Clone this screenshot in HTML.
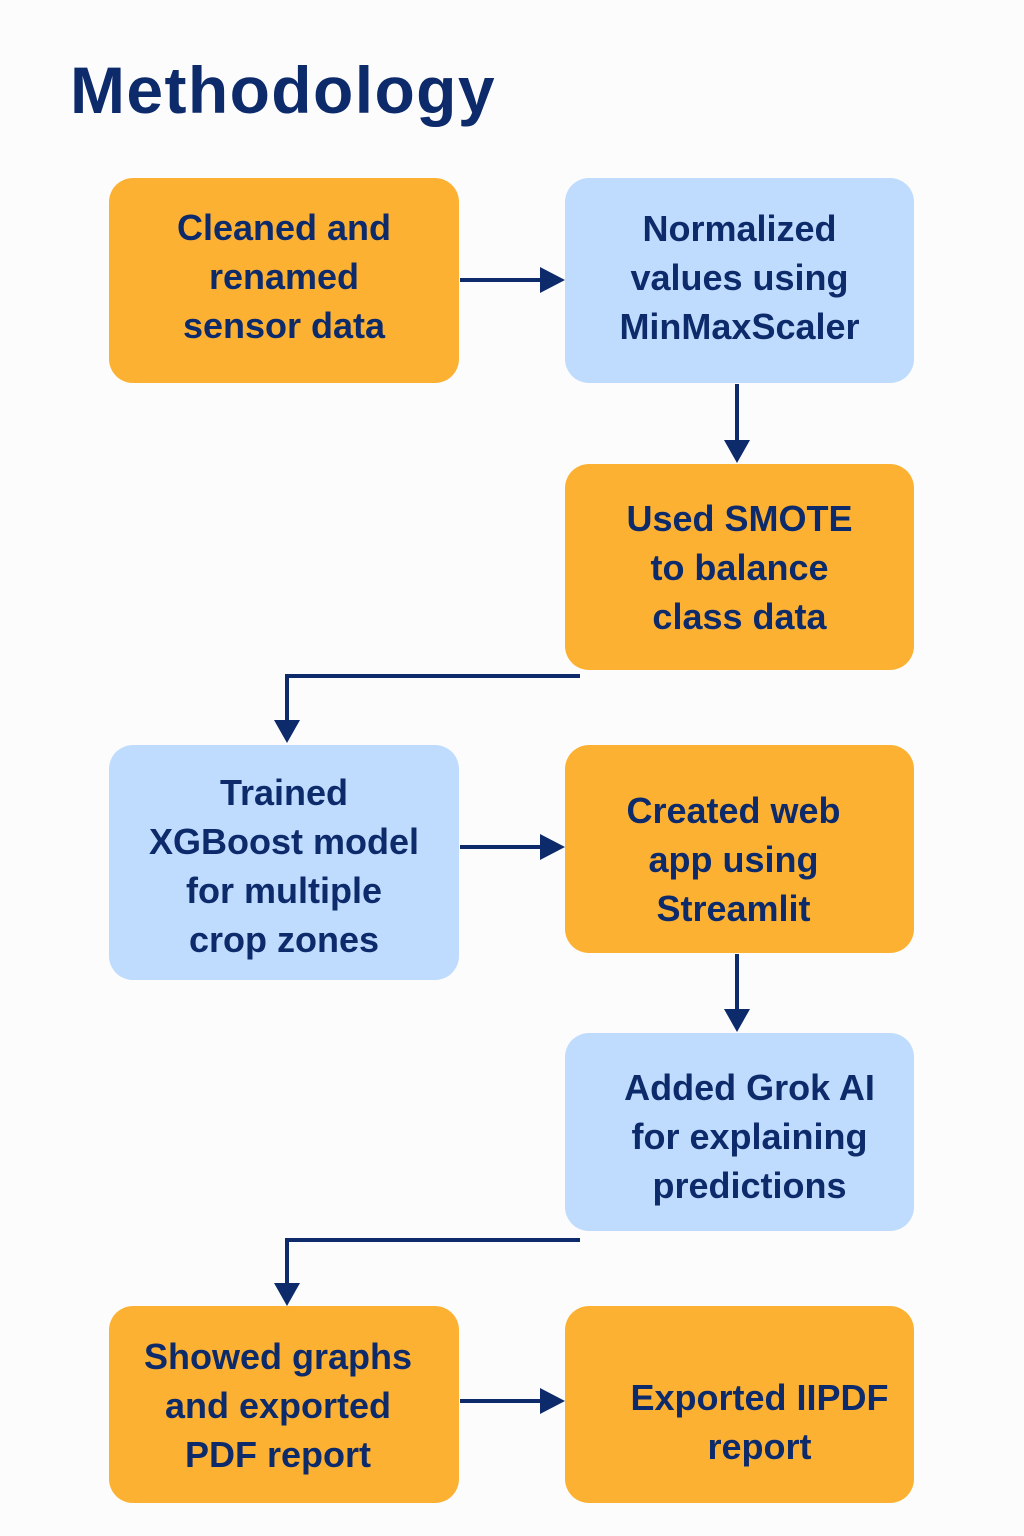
<!DOCTYPE html>
<html><head><meta charset="utf-8"><style>
body{margin:0;width:1024px;height:1536px;background:#fcfcfc;position:relative;overflow:hidden;font-family:"Liberation Sans",sans-serif}
.t{position:absolute;left:70px;top:52px;font-size:66px;font-weight:bold;color:#0d2a6b;letter-spacing:1.4px}
.b{position:absolute;border-radius:24px;display:flex;align-items:center;justify-content:center;text-align:center;color:#0d2a6b;font-weight:bold;font-size:36px;line-height:49px;box-sizing:border-box}
.o{background:#fdb132}
.l{background:#bfdbfd}
svg{position:absolute;left:0;top:0}
</style></head><body>
<div class="t">Methodology</div>
<div class="b o" style="left:109px;top:178px;width:350px;height:205px;padding-bottom:8px">Cleaned and<br>renamed<br>sensor data</div>
<div class="b l" style="left:565px;top:178px;width:349px;height:205px;padding-bottom:6px">Normalized<br>values using<br>MinMaxScaler</div>
<div class="b o" style="left:565px;top:464px;width:349px;height:206px">Used SMOTE<br>to balance<br>class data</div>
<div class="b l" style="left:109px;top:745px;width:350px;height:235px;padding-top:6px">Trained<br>XGBoost model<br>for multiple<br>crop zones</div>
<div class="b o" style="left:565px;top:745px;width:349px;height:208px;padding-right:12px;padding-top:20px">Created web<br>app using<br>Streamlit</div>
<div class="b l" style="left:565px;top:1033px;width:349px;height:198px;padding-left:20px;padding-top:8px">Added Grok AI<br>for explaining<br>predictions</div>
<div class="b o" style="left:109px;top:1306px;width:350px;height:197px;padding-right:12px;padding-top:2px">Showed graphs<br>and exported<br>PDF report</div>
<div class="b o" style="left:565px;top:1306px;width:349px;height:197px;padding-left:40px;padding-top:34px">Exported IIPDF<br>report</div>
<svg width="1024" height="1536">
<g stroke="#0d2a6b" stroke-width="4" fill="none">
<path d="M460 280H542"/><path d="M737 384V442"/>
<path d="M580 676H287V722"/><path d="M460 847H542"/>
<path d="M737 954V1010"/><path d="M580 1240H287V1284"/>
<path d="M460 1401H542"/>
</g>
<g fill="#0d2a6b">
<path d="M540 267L565 280L540 293Z"/>
<path d="M724 440L737 463L750 440Z"/>
<path d="M274 720L287 743L300 720Z"/>
<path d="M540 834L565 847L540 860Z"/>
<path d="M724 1009L737 1032L750 1009Z"/>
<path d="M274 1283L287 1306L300 1283Z"/>
<path d="M540 1388L565 1401L540 1414Z"/>
</g>
</svg>
</body></html>
